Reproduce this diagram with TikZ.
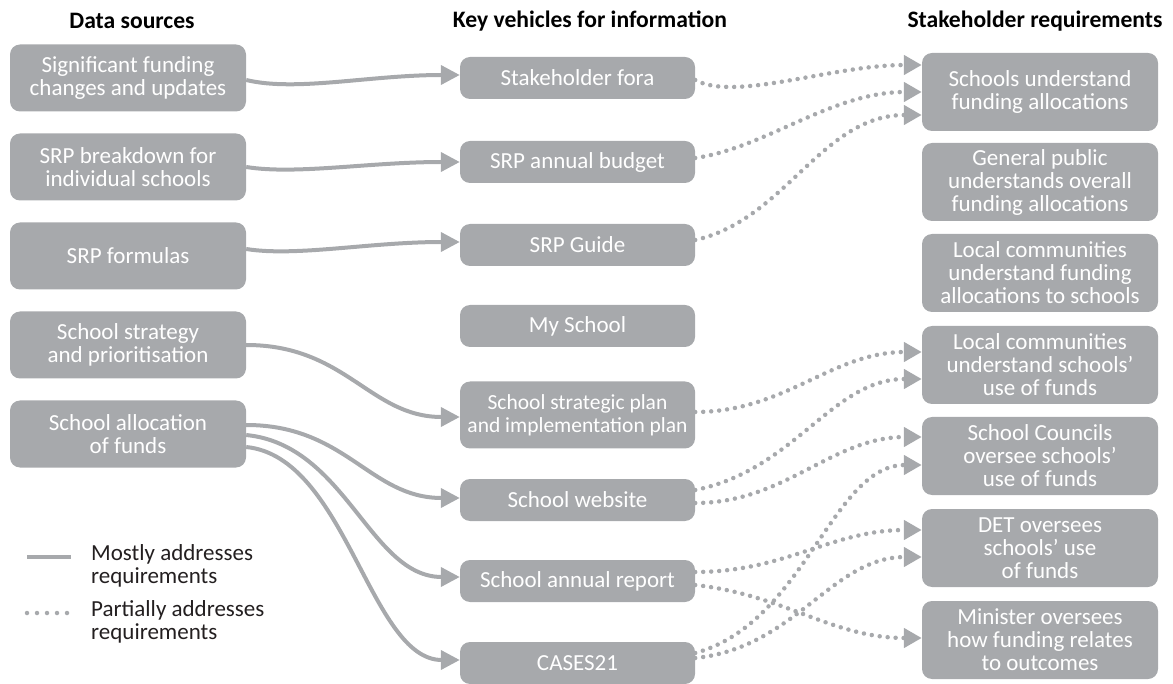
\documentclass[tikz,border=0pt]{standalone}
\usepackage{fontspec}
\setmainfont{Carlito}
\usetikzlibrary{arrows.meta,calc}
\definecolor{boxgray}{HTML}{A7A9AC}
\definecolor{linegray}{HTML}{A7A9AC}
\definecolor{legtext}{HTML}{231F20}
\begin{document}
\begin{tikzpicture}[x=1pt,y=-1pt,
  box/.style={fill=boxgray,text=white,rounded corners=10pt,inner sep=0pt,align=center,
    font=\fontsize{23}{23}\selectfont},
  lbox/.style={box,minimum width=236pt,minimum height=67pt},
  mbox/.style={box,minimum width=235pt,minimum height=42pt},
  mboxtall/.style={box,minimum width=235pt,minimum height=67pt,font=\fontsize{21.5}{23}\selectfont},
  rbox/.style={box,minimum width=236pt,minimum height=78pt},
  head/.style={font=\fontsize{23.6}{24}\selectfont\bfseries,text=black},
  legtxt/.style={font=\fontsize{23}{23}\selectfont,text=legtext,align=left,anchor=west,inner sep=0pt},
  solidarr/.style={draw=linegray,line width=4pt,-{Triangle[length=19pt,width=19pt]}},
  dotarr/.style={draw=linegray,line width=4.5pt,line cap=round,dash pattern=on 0pt off 8pt,
    -{Triangle[length=18pt,width=19pt]}},
]
\useasboundingbox (0,0) rectangle (1173,684);

% headings
\node[head] (h1) at (132,21) {Data sources};
\node[head] (h2) at (590,21) {Key vehicles for information};
\node[head] (h3) at (1035,21) {Stakeholder requirements};

% left column
\node[lbox] (l1) at (128,78) {Significant funding\\changes and updates};
\node[lbox] (l2) at (128,167) {SRP breakdown for\\individual schools};
\node[lbox] (l3) at (128,256) {SRP formulas};
\node[lbox] (l4) at (128,345) {School strategy\\and prioritisation};
\node[lbox] (l5) at (128,434) {School allocation\\of funds};

% middle column
\node[mbox] (m1) at (577.5,78) {Stakeholder fora};
\node[mbox] (m2) at (577.5,162) {SRP annual budget};
\node[mbox] (m3) at (577.5,245) {SRP Guide};
\node[mbox] (m4) at (577.5,326) {My School};
\node[mboxtall] (m5) at (577.5,415) {School strategic plan\\and implementation plan};
\node[mbox] (m6) at (577.5,500) {School website};
\node[mbox] (m7) at (577.5,581) {School annual report};
\node[mbox] (m8) at (577.5,663) {CASES21};

% right column
\node[rbox] (r1) at (1040,92) {Schools understand\\funding allocations};
\node[rbox] (r2) at (1040,182) {General public\\understands overall\\funding allocations};
\node[rbox] (r3) at (1040,273) {Local communities\\understand funding\\allocations to schools};
\node[rbox] (r4) at (1040,365) {Local communities\\understand schools’\\use of funds};
\node[rbox] (r5) at (1040,456) {School Councils\\oversee schools’\\use of funds};
\node[rbox] (r6) at (1040,548) {DET oversees\\schools’ use\\of funds};
\node[rbox] (r7) at (1040,640) {Minister oversees\\how funding relates\\to outcomes};

% solid connectors
\draw[solidarr] ($(l1.east)+(0,2)$) .. controls +(50,12) and +(-90,0) .. ($(m1.west)+(0,-3)$);
\draw[solidarr] ($(l2.east)+(0,0)$) .. controls +(50,8) and +(-90,0) .. ($(m2.west)+(0,0)$);
\draw[solidarr] ($(l3.east)+(0,-7)$) .. controls +(50,8) and +(-90,0) .. ($(m3.west)+(0,-3)$);
\draw[solidarr] ($(l4.east)+(0,0)$) .. controls +(100,0) and +(-90,0) .. ($(m5.west)+(0,2)$);
\draw[solidarr] ($(l5.east)+(0,-9)$) .. controls +(100,0) and +(-90,0) .. ($(m6.west)+(0,-2)$);
\draw[solidarr] ($(l5.east)+(0,1)$) .. controls +(100,10) and +(-90,0) .. ($(m7.west)+(0,-4)$);
\draw[solidarr] ($(l5.east)+(0,13)$) .. controls +(100,10) and +(-90,0) .. ($(m8.west)+(0,-3)$);

% dotted connectors
\draw[dotarr] ($(m1.east)+(0,2)$) .. controls +(40,22) and +(-90,0) .. ($(r1.west)+(0,-27)$);
\draw[dotarr] ($(m2.east)+(0,-4)$) .. controls +(70,-10) and +(-90,0) .. ($(r1.west)+(0,0)$);
\draw[dotarr] ($(m3.east)+(0,-5)$) .. controls +(90,-20) and +(-100,0) .. ($(r1.west)+(0,23)$);
\draw[dotarr] ($(m5.east)+(0,-3)$) .. controls +(90,0) and +(-90,0) .. ($(r4.west)+(0,-13)$);
\draw[dotarr] ($(m6.east)+(0,-10)$) .. controls +(100,-20) and +(-90,0) .. ($(r4.west)+(0,14)$);
\draw[dotarr] ($(m6.east)+(0,3)$) .. controls +(90,0) and +(-90,0) .. ($(r5.west)+(0,-19)$);
\draw[dotarr] ($(m7.east)+(0,-9)$) .. controls +(90,0) and +(-90,0) .. ($(r6.west)+(0,-18)$);
\draw[dotarr] ($(m7.east)+(0,4)$) .. controls +(90,10) and +(-90,0) .. ($(r7.west)+(0,-2)$);
\draw[dotarr] ($(m8.east)+(0,-10)$) .. controls +(110,-30) and +(-90,0) .. ($(r5.west)+(0,9)$);
\draw[dotarr] ($(m8.east)+(0,-5)$) .. controls +(100,-10) and +(-90,0) .. ($(r6.west)+(0,9)$);

% legend
\coordinate (la) at (27,557);
\coordinate (lb) at (71,557);
\coordinate (lc) at (27,613);
\coordinate (ld) at (71,613);
\draw[draw=linegray,line width=4pt] (la) -- (lb);
\draw[draw=linegray,line width=4.5pt,line cap=round,dash pattern=on 0pt off 10pt] (lc) -- (ld);
\node[legtxt] (t1) at (91,566) {Mostly addresses\\requirements};
\node[legtxt] (t2) at (91,622) {Partially addresses\\requirements};
\end{tikzpicture}
\end{document}
